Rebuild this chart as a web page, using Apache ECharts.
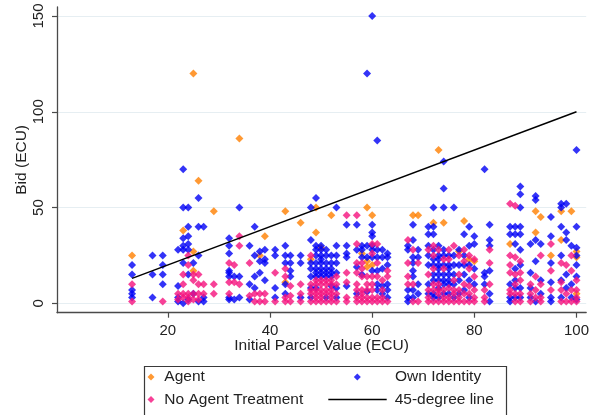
<!DOCTYPE html>
<html>
<head>
<meta charset="utf-8">
<script src="https://cdn.jsdelivr.net/npm/echarts@6/dist/echarts.min.js"></script>
<style>
html,body{margin:0;padding:0;background:#fff;}
#chart{width:592px;height:415px;}
</style>
</head>
<body>
<div id="chart"></div>
<script>
// ---- Data (columns: [initial parcel value, [bids...]]) ----
const agentCols = [
  [13,[25]],[23,[38]],[25,[120,27,17]],[26,[64]],[29,[48]],[34,[86]],[38,[25]],[39,[35]],
  [43,[48,11]],[46,[42]],[48,[23]],[49,[50,37]],[50,[29]],[52,[46]],[58,[26]],[59,[50,22,19]],
  [60,[46,20]],[68,[46]],[69,[46]],[72,[42]],[73,[80]],[74,[42]],[77,[27]],[78,[43]],[79,[23]],
  [80,[22]],[87,[31]],[92,[48,37]],[93,[45]],[95,[25]],[97,[48,33]],[99,[48]],[100,[27,24,5]]
];
const ownCols = [
  [13,[20,15,7,5,3]],[17,[25,15,3]],[19,[25,20,15,10]],[22,[28,9,3,1]],
  [23,[70,50,34,30,28,21,0]],[24,[50,40,35,31,28,15,2]],[25,[21,5]],[26,[55,40,25,1]],
  [27,[40,3,1]],[32,[34,30,26,17,16,14,3,2]],[33,[14,2]],[34,[50,14,3]],[36,[30,10,2]],
  [37,[40,25,14,8]],[38,[27,22,16]],[39,[28,23,21,12]],[41,[28,25,8,3]],[43,[30,25,21,10,5]],
  [44,[25,21,17,14]],[46,[25,21,3]],[48,[50,33,21,18,14,8,3]],[49,[55,30,28,25,21,18,16,14,8]],
  [50,[30,28,25,23,21,18,16,14]],[51,[28,25,21,18,16,14,3]],[52,[25,21,18,16,14,9]],
  [53,[50,30,25,21,16,8,3]],[55,[41,30,26,24,9]],[57,[41,28,19,5]],[58,[30,28,24,15]],
  [59,[120,30,24,6]],[60,[150,41,37,35,30,28,24,17]],[61,[85,28,24,17,10,7]],[62,[28,24,18,9,5]],
  [63,[26,24,20,10,7,3]],[67,[30,28,7,3,1]],[68,[41,33,24,21,17,14,7,3]],[69,[28,24,10,5]],
  [71,[40,36,30,25,20,10,5]],[72,[50,40,36,28,23,20,15,12,5,3]],[73,[30,25,23,20,18,15,12,8,3]],
  [74,[74,60,50,28,25,20,15,12,10,5]],[75,[25,20,18,15,12,10,5]],[76,[50,25,20,15,10,3]],
  [77,[28,20,12,5]],[78,[36,25,20,15,7]],[79,[40,30,20,12,3]],[80,[35,31,18,10]],[82,[70,16,14,10]],
  [83,[41,33,30,17,5,1]],[87,[40,36,10,3,1]],[88,[40,36,31,18,12,8,3]],[89,[61,57,50,40,36,28,20,8,3]],
  [91,[31,16,8,3]],[92,[56,54,33,22,1]],[93,[31,12,5]],[95,[45,35,21,11,3,1]],[97,[52,50,40,25,12,3]],
  [98,[52,37,33,15,8]],[99,[30,10,3]],[100,[80,40,29,25,20,14,2]]
];
const noAgentCols = [
  [13,[10,1]],[19,[1]],[22,[5,2]],[23,[15,10,5,3]],[24,[25,20,5,3,1]],[25,[15,12,5,2]],[26,[15,10,5,2]],
  [27,[10,5]],[29,[10,5]],[32,[21,11,5]],[33,[20,11]],[34,[35,30,10]],[36,[21,4]],[37,[5,1]],[38,[5,1]],
  [39,[5,1]],[41,[16,1]],[43,[18,14,3,1]],[44,[9,4,1]],[46,[10,5,1]],[48,[25,10,7,5,1]],
  [49,[12,10,7,5,3,1]],[50,[12,10,7,5,3,1]],[51,[12,10,7,5,1]],[52,[12,10,7,5,3,1]],[53,[14,10,5,1]],
  [55,[46,16,11,3,1]],[57,[46,31,21,16,10,7,3,1]],[58,[21,18,14,7,5,3,1]],[59,[14,10,7,3,1]],
  [60,[31,26,14,10,7,3,1]],[61,[31,21,14,3,1]],[62,[12,7,3,1]],[63,[17,14,1]],[67,[33,21,14,10]],
  [68,[28,10,1]],[69,[21,1]],[71,[28,15,7,3,1]],[72,[30,25,18,10,7,1]],[73,[28,10,7,5,1]],
  [74,[23,18,7,3,1]],[75,[28,23,8,3,1]],[76,[30,12,7,5,1]],[77,[25,15,7,3,1]],[78,[28,22,10,5,1]],
  [79,[25,18,9,5,1]],[80,[23,14,7,3,1]],[82,[7,3,1]],[83,[28,21,10]],[87,[52,25,20,16,7,5]],
  [88,[51,24,15,10,5,1]],[89,[22,16,12,5,1]],[91,[10,5,1]],[92,[14,7,3]],[93,[25,10,3,1]],
  [95,[31,17,7]],[97,[21,11,7,1]],[98,[20,5,1]],[99,[25,17,7,1]],[100,[12,7,3,1]]
];
const lineEnds = [13, 100];          // 45-degree line from x=13 to x=100
const xTicks = [20, 40, 60, 80, 100];
const yTicks = [0, 50, 100, 150];

function flatten(cols){
  const out = [];
  cols.forEach(c => c[1].forEach(b => out.push([c[0], b])));
  return out;
}

const FONT = '"Liberation Sans", Arial, sans-serif';
const TXT = '#222';
const AX = '#4a4a4a';
const ORANGE = '#ff8000';
const BLUE = '#0000f5';
const PINK = '#f5127d';

const chart = echarts.init(document.getElementById('chart'), null, {renderer:'canvas'});

function legendText(padLeft){
  return {fontFamily: FONT, fontSize: 15.5, color: TXT, padding: [0,0,0,padLeft]};
}
const legendBase = {orient: 'vertical', padding: 0, itemGap: 0, selectedMode: false};

chart.setOption({
  animation: false,
  backgroundColor: '#fff',
  grid: {left: 57, right: 3, top: 7, bottom: 102.3, containLabel: false},
  xAxis: {
    type: 'value', min: -1.7, max: 101.9,
    name: 'Initial Parcel Value (ECU)', nameLocation: 'middle', nameGap: 25, nameMoveOverlap: false,
    nameTextStyle: {fontFamily: FONT, fontSize: 15.5, color: TXT},
    axisLine: {show: true, onZero: false, lineStyle: {color: AX, width: 1.3}},
    axisTick: {show: true, length: 5, customValues: xTicks, lineStyle: {color: AX, width: 1.2}},
    axisLabel: {customValues: xTicks, margin: 11, fontFamily: FONT, fontSize: 15, color: TXT},
    splitLine: {show: false}
  },
  yAxis: {
    type: 'value', min: -4.9, max: 154.7,
    name: 'Bid (ECU)', nameLocation: 'middle', nameGap: 27, nameMoveOverlap: false,
    nameTextStyle: {fontFamily: FONT, fontSize: 15.5, color: TXT},
    axisLine: {show: true, onZero: false, lineStyle: {color: AX, width: 1.3}},
    axisTick: {show: true, length: 5, customValues: yTicks, lineStyle: {color: AX, width: 1.2}},
    axisLabel: {customValues: yTicks, rotate: 90, margin: 11, fontFamily: FONT, fontSize: 15, color: TXT},
    splitLine: {show: true, lineStyle: {color: '#e6eef2', width: 1.2}}
  },
  legend: [
    Object.assign({}, legendBase, {data: [{name: 'Agent', icon: 'diamond'}],
      left: 147.5, top: 369, itemWidth: 7, itemHeight: 7, textStyle: legendText(4.8)}),
    Object.assign({}, legendBase, {data: [{name: 'No Agent Treatment', icon: 'diamond'}],
      left: 147.5, top: 391.5, itemWidth: 7, itemHeight: 7, textStyle: legendText(4.8)}),
    Object.assign({}, legendBase, {data: [{name: 'Own Identity', icon: 'diamond'}],
      left: 353.8, top: 369, itemWidth: 7, itemHeight: 7, textStyle: legendText(29.2)}),
    Object.assign({}, legendBase, {data: [{name: '45-degree line', icon: 'rect'}],
      left: 328.3, top: 391.5, itemWidth: 58.4, itemHeight: 1.5, textStyle: legendText(3)})
  ],
  graphic: [{
    type: 'rect', left: 142, top: 364, z: 100, silent: true,
    shape: {width: 362, height: 49},
    style: {fill: 'none', stroke: '#3a3a3a', lineWidth: 1.2}
  }],
  series: [
    {name: 'Agent', type: 'scatter', symbol: 'diamond', symbolSize: 8,
     itemStyle: {color: ORANGE}, data: flatten(agentCols)},
    {name: 'Own Identity', type: 'scatter', symbol: 'diamond', symbolSize: 8,
     itemStyle: {color: BLUE}, data: flatten(ownCols)},
    {name: 'No Agent Treatment', type: 'scatter', symbol: 'diamond', symbolSize: 8,
     itemStyle: {color: PINK}, data: flatten(noAgentCols)},
    {name: '45-degree line', type: 'line', symbol: 'none', showSymbol: false,
     lineStyle: {color: '#000', width: 1.5}, itemStyle: {color: '#000'},
     data: lineEnds.map(v => [v, v])}
  ]
});
</script>
</body>
</html>
